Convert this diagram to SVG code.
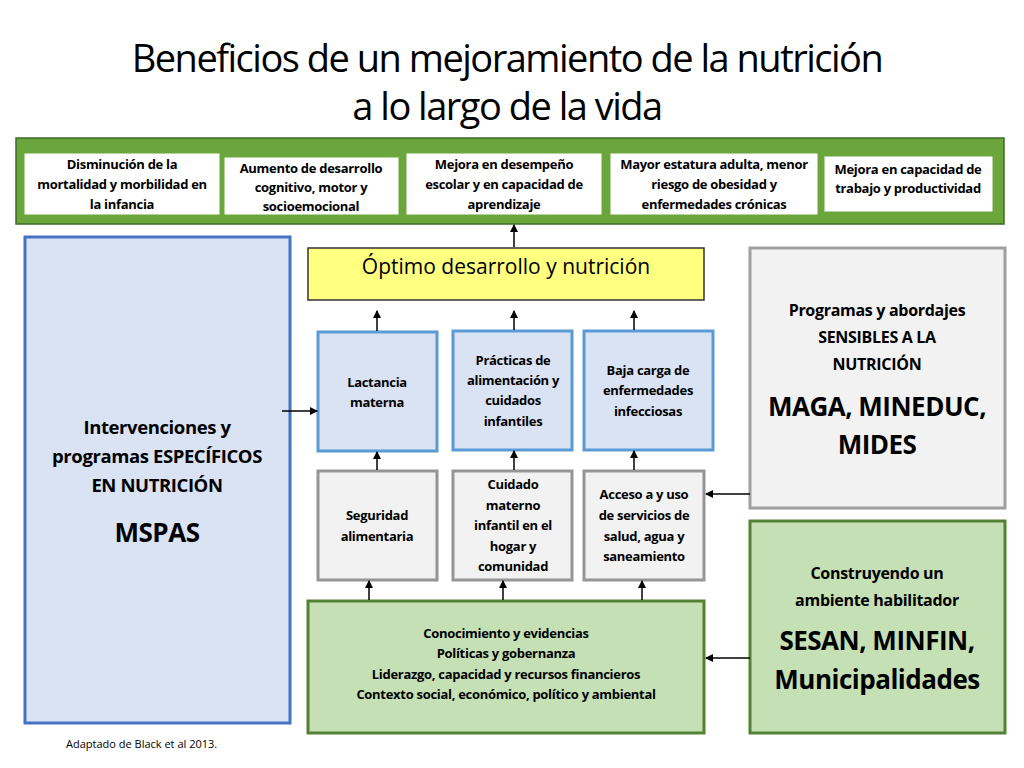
<svg xmlns="http://www.w3.org/2000/svg" width="1024" height="768" viewBox="0 0 1024 768">
<style>
text{font-family:"Open Sans","Liberation Sans",sans-serif;text-anchor:middle;fill:#000}
.s{font-size:13px;font-weight:bold;letter-spacing:-0.3px}
.m{font-size:16px;font-weight:bold;letter-spacing:-0.3px}
.l{font-size:18.5px;font-weight:bold;letter-spacing:-0.4px}
.xl{font-size:26px;font-weight:bold;letter-spacing:-0.5px}
.w{fill:#fff;stroke:#6aa63c;stroke-width:1}
.b{fill:#dae3f3;stroke:#5b9bd5;stroke-width:3}
.g{fill:#f2f2f2;stroke:#959595;stroke-width:3}
.c line{stroke:#000;stroke-width:1.5;marker-end:url(#a)}
</style>
<defs><marker id="a" markerWidth="8" markerHeight="8" refX="7" refY="4" orient="auto" markerUnits="userSpaceOnUse"><path d="M0,0L8,4L0,8z" fill="#000"/></marker></defs>
<rect width="1024" height="768" fill="#fff"/>
<text x="507" y="72" style="font-size:38px;letter-spacing:-1.5px">Beneficios de un mejoramiento de la nutrición</text>
<text x="507" y="120" style="font-size:38px;letter-spacing:-1.5px">a lo largo de la vida</text>
<g id="outcomes">
<rect x="16" y="138" width="988" height="86" fill="#6aa63c" stroke="#3e6b27" stroke-width="1.5"/>
<rect class="w" x="24" y="153" width="196" height="62"/>
<text class="s" x="122" y="169">Disminución de la</text><text class="s" x="122" y="189">mortalidad y morbilidad en</text><text class="s" x="122" y="209">la infancia</text>
<rect class="w" x="224" y="157" width="175" height="58"/>
<text class="s" x="311" y="173">Aumento de desarrollo</text><text class="s" x="311" y="192">cognitivo, motor y</text><text class="s" x="311" y="211">socioemocional</text>
<rect class="w" x="406" y="153" width="196" height="62"/>
<text class="s" x="504" y="169">Mejora en desempeño</text><text class="s" x="504" y="189">escolar y en capacidad de</text><text class="s" x="504" y="209">aprendizaje</text>
<rect class="w" x="610" y="153" width="208" height="62"/>
<text class="s" x="714" y="169">Mayor estatura adulta, menor</text><text class="s" x="714" y="189">riesgo de obesidad y</text><text class="s" x="714" y="209">enfermedades crónicas</text>
<rect class="w" x="824" y="156" width="169" height="56"/>
<text class="s" x="908" y="174">Mejora en capacidad de</text><text class="s" x="908" y="193">trabajo y productividad</text>
</g>
<g id="optimo"><rect x="308" y="248" width="396" height="52" fill="#ffff80" stroke="#333" stroke-width="1.5"/>
<text x="506" y="274" style="font-size:21px">Óptimo desarrollo y nutrición</text></g>
<g id="mspas"><rect x="25" y="237" width="265" height="486" fill="#dae3f3" stroke="#4472c4" stroke-width="3"/>
<text class="l" x="157" y="434">Intervenciones y</text><text class="l" x="157" y="463">programas ESPECÍFICOS</text><text class="l" x="157" y="492">EN NUTRICIÓN</text>
<text class="xl" x="157" y="542">MSPAS</text></g>
<g id="lactancia"><rect class="b" x="318" y="332" width="119" height="119"/><text class="s" x="377" y="387">Lactancia</text><text class="s" x="377" y="407">materna</text></g>
<g id="practicas"><rect class="b" x="453" y="331" width="119" height="119"/><text class="s" x="513" y="365">Prácticas de</text><text class="s" x="513" y="385">alimentación y</text><text class="s" x="513" y="405">cuidados</text><text class="s" x="513" y="426">infantiles</text></g>
<g id="baja"><rect class="b" x="584" y="331" width="129" height="119"/><text class="s" x="648" y="375">Baja carga de</text><text class="s" x="648" y="395">enfermedades</text><text class="s" x="648" y="416">infecciosas</text></g>
<g id="seguridad"><rect class="g" x="318" y="471" width="119" height="109"/><text class="s" x="377" y="520">Seguridad</text><text class="s" x="377" y="541">alimentaria</text></g>
<g id="cuidado"><rect class="g" x="453" y="471" width="119" height="109"/><text class="s" x="513" y="489">Cuidado</text><text class="s" x="513" y="510">materno</text><text class="s" x="513" y="530">infantil en el</text><text class="s" x="513" y="551">hogar y</text><text class="s" x="513" y="571">comunidad</text></g>
<g id="acceso"><rect class="g" x="584" y="471" width="120" height="109"/><text class="s" x="644" y="499">Acceso a y uso</text><text class="s" x="644" y="520">de servicios de</text><text class="s" x="644" y="541">salud, agua y</text><text class="s" x="644" y="561">saneamiento</text></g>
<g id="conocimiento"><rect x="308" y="601" width="396" height="132" fill="#c5e0b4" stroke="#548235" stroke-width="3"/>
<text class="s" x="506" y="638">Conocimiento y evidencias</text><text class="s" x="506" y="658">Políticas y gobernanza</text><text class="s" x="506" y="679">Liderazgo, capacidad y recursos financieros</text><text class="s" x="506" y="699">Contexto social, económico, político y ambiental</text></g>
<g id="sensibles"><rect x="750" y="248" width="255" height="260" fill="#f2f2f2" stroke="#a0a0a0" stroke-width="3"/>
<text class="m" x="877" y="316">Programas y abordajes</text><text class="m" x="877" y="343">SENSIBLES A LA</text><text class="m" x="877" y="370">NUTRICIÓN</text>
<text class="xl" x="877" y="416">MAGA, MINEDUC,</text><text class="xl" x="877" y="454">MIDES</text></g>
<g id="ambiente"><rect x="750" y="521" width="255" height="212" fill="#c5e0b4" stroke="#548235" stroke-width="3"/>
<text class="m" x="877" y="579">Construyendo un</text><text class="m" x="877" y="606">ambiente habilitador</text>
<text class="xl" x="877" y="650">SESAN, MINFIN,</text><text class="xl" x="877" y="689">Municipalidades</text></g>
<g class="c" id="connectors">
<line x1="514" y1="247" x2="514" y2="225"/>
<line x1="377" y1="331" x2="377" y2="311"/><line x1="514" y1="330" x2="514" y2="311"/><line x1="634" y1="330" x2="634" y2="311"/>
<line x1="377" y1="470" x2="377" y2="452"/><line x1="514" y1="470" x2="514" y2="451"/><line x1="634" y1="470" x2="634" y2="451"/>
<line x1="369" y1="600" x2="369" y2="581"/><line x1="503" y1="600" x2="503" y2="581"/><line x1="642" y1="600" x2="642" y2="581"/>
<line x1="282" y1="411" x2="317" y2="411"/>
<line x1="750" y1="494" x2="706" y2="494"/>
<line x1="750" y1="658" x2="706" y2="658"/>
</g>
<text x="66" y="748" style="font-size:11px;text-anchor:start">Adaptado de Black et al 2013.</text>
</svg>
